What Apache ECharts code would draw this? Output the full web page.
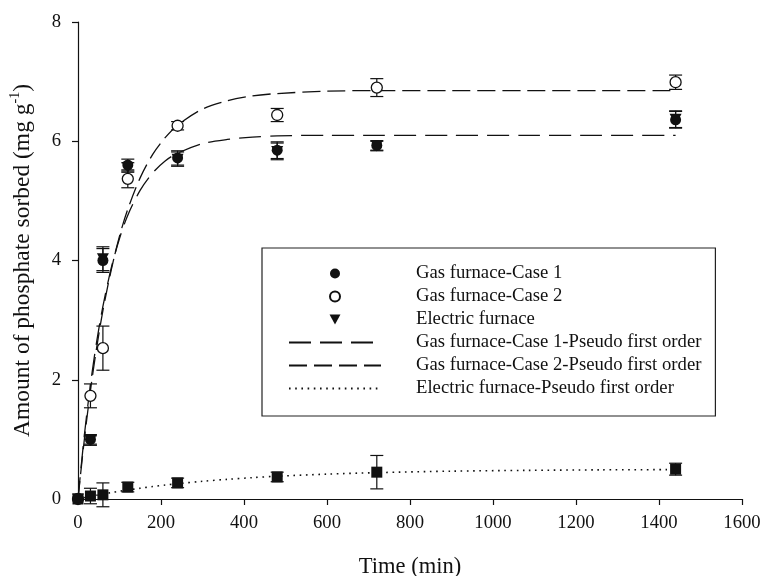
<!DOCTYPE html>
<html>
<head>
<meta charset="utf-8">
<script src="https://cdn.jsdelivr.net/npm/echarts@6/dist/echarts.min.js"></script>
<style>
  html, body { margin: 0; padding: 0; background: #fff; }
  #chart { width: 776px; height: 576px; }
</style>
</head>
<body>
<div id="chart"></div>
<script>
// sampling times (min)
var times = [0, 30, 60, 120, 240, 480, 720, 1440];

// measured sorption (mg/g) and error bar half-widths
var case1 = [0, 1.0, 4.0, 5.6, 5.72, 5.85, 5.93, 6.36];
var case1Err = [0, 0.08, 0.2, 0.1, 0.12, 0.14, 0.08, 0.14];
var case2 = [0, 1.73, 2.53, 5.37, 6.26, 6.44, 6.9, 6.99];
var case2Err = [0, 0.2, 0.37, 0.15, 0.07, 0.11, 0.15, 0.12];
var electric = [0, 0.98, 4.03, 5.56, 5.7, 5.83, 5.92, 6.37];
var electricErr = [0, 0.08, 0.2, 0.08, 0.12, 0.14, 0.08, 0.14];
var lowSeries = [0, 0.05, 0.07, 0.2, 0.27, 0.37, 0.45, 0.5];
var lowSeriesErr = [0, 0.13, 0.2, 0.08, 0.08, 0.08, 0.28, 0.1];

// fitted curves
var fitTimes = [0, 15, 30, 45, 60, 80, 100, 120, 150, 180, 210, 240, 300, 360, 420, 480, 600, 720, 900, 1080, 1260, 1440];
var fitCase1 = [0, 1.05, 1.92, 2.64, 3.23, 3.87, 4.37, 4.76, 5.18, 5.47, 5.67, 5.80, 5.96, 6.03, 6.07, 6.09, 6.10, 6.10, 6.10, 6.10, 6.10, 6.10];
var fitCase2 = [0, 0.98, 1.82, 2.54, 3.16, 3.84, 4.41, 4.86, 5.39, 5.78, 6.06, 6.27, 6.54, 6.68, 6.76, 6.80, 6.84, 6.85, 6.85, 6.85, 6.85, 6.85];
var fitElectric = [0, 0.022, 0.044, 0.063, 0.082, 0.107, 0.130, 0.151, 0.181, 0.209, 0.234, 0.257, 0.297, 0.330, 0.358, 0.382, 0.417, 0.442, 0.467, 0.480, 0.489, 0.493];

var xTicks = { min: 0, max: 1600, interval: 200 };
var yTicks = { min: 0, max: 8, interval: 2 };

var FONT = '"Liberation Serif", "DejaVu Serif", serif';
var INK = '#111';
var DOWN_TRI = 'path://M0,0L12,0L6,11Z';

function pairs(xs, ys) {
  return xs.map(function(x, i) { return [x, ys[i]]; });
}

function errData(vals, errs) {
  return times.map(function(t, i) { return [t, vals[i] - errs[i], vals[i] + errs[i]]; })
    .filter(function(d, i) { return errs[i] > 0; });
}

function errorBars(name, vals, errs) {
  return {
    name: name,
    type: 'custom',
    z: 2,
    silent: true,
    data: errData(vals, errs),
    renderItem: function(params, api) {
      var lo = api.coord([api.value(0), api.value(1)]);
      var hi = api.coord([api.value(0), api.value(2)]);
      var w = 6.5;
      var st = { stroke: INK, lineWidth: 1.2 };
      return {
        type: 'group',
        children: [
          { type: 'line', shape: { x1: lo[0], y1: lo[1], x2: hi[0], y2: hi[1] }, style: st },
          { type: 'line', shape: { x1: lo[0] - w, y1: lo[1], x2: lo[0] + w, y2: lo[1] }, style: st },
          { type: 'line', shape: { x1: hi[0] - w, y1: hi[1], x2: hi[0] + w, y2: hi[1] }, style: st }
        ]
      };
    }
  };
}

function fitLine(name, ys, width, dash) {
  return {
    name: name,
    type: 'line',
    data: pairs(fitTimes, ys),
    smooth: 0.3,
    showSymbol: false,
    symbol: 'none',
    z: 3,
    itemStyle: { color: INK },
    lineStyle: { color: INK, width: width, type: dash }
  };
}

var chart = echarts.init(document.getElementById('chart'));

chart.setOption({
  animation: false,
  backgroundColor: '#fff',
  textStyle: { fontFamily: FONT, color: INK },
  grid: { left: 78, top: 22, right: 34, bottom: 77, containLabel: false, outerBoundsMode: 'none' },
  legend: {
    orient: 'vertical',
    left: 262,
    top: 248,
    padding: [14, 14, 16, 26],
    borderColor: '#222',
    borderWidth: 1.2,
    itemWidth: 92,
    itemHeight: 10,
    itemGap: 0,
    textStyle: { fontFamily: FONT, fontSize: 18.7, color: INK, lineHeight: 23, padding: [0, 0, 0, 30] },
    data: [
      'Gas furnace-Case 1',
      'Gas furnace-Case 2',
      { name: 'Electric furnace', icon: DOWN_TRI },
      { name: 'Gas furnace-Case 1-Pseudo first order', itemStyle: { opacity: 0 } },
      { name: 'Gas furnace-Case 2-Pseudo first order', itemStyle: { opacity: 0 } },
      { name: 'Electric furnace-Pseudo first order', itemStyle: { opacity: 0 } }
    ]
  },
  xAxis: {
    type: 'value',
    min: xTicks.min,
    max: xTicks.max,
    interval: xTicks.interval,
    name: 'Time (min)',
    nameLocation: 'middle',
    nameGap: 57,
    nameTextStyle: { fontFamily: FONT, fontSize: 22.5, color: INK },
    axisLine: { onZero: false, lineStyle: { color: INK, width: 1.2 } },
    axisTick: { length: 6, lineStyle: { color: INK, width: 1.2 } },
    axisLabel: { fontFamily: FONT, fontSize: 18.7, color: INK, margin: 15, formatter: function(v) { return String(v); } },
    splitLine: { show: false }
  },
  yAxis: {
    type: 'value',
    min: yTicks.min,
    max: yTicks.max,
    interval: yTicks.interval,
    name: '{a|Amount of phosphate sorbed (mg g}{s|-1}{a|)}',
    nameLocation: 'middle',
    nameGap: 43,
    nameRotate: 90,
    nameTextStyle: {
      fontFamily: FONT,
      color: INK,
      rich: {
        a: { fontFamily: FONT, fontSize: 23.5, color: INK, lineHeight: 27, verticalAlign: 'bottom' },
        s: { fontFamily: FONT, fontSize: 14, color: INK, lineHeight: 27, verticalAlign: 'top' }
      }
    },
    axisLine: { show: true, onZero: false, lineStyle: { color: INK, width: 1.2 } },
    axisTick: { show: true, length: 6, lineStyle: { color: INK, width: 1.2 } },
    axisLabel: { fontFamily: FONT, fontSize: 18.7, color: INK, margin: 17 },
    splitLine: { show: false }
  },
  series: [
    errorBars('err-case1', case1, case1Err),
    errorBars('err-case2', case2, case2Err),
    errorBars('err-electric', electric, electricErr),
    errorBars('err-low', lowSeries, lowSeriesErr),
    fitLine('Gas furnace-Case 1-Pseudo first order', fitCase1, 1.3, [22, 9]),
    fitLine('Gas furnace-Case 2-Pseudo first order', fitCase2, 1.3, [18, 7]),
    fitLine('Electric furnace-Pseudo first order', fitElectric, 1.6, [1.6, 4.6]),
    {
      name: 'Gas furnace-Case 1',
      type: 'scatter',
      data: pairs(times, case1),
      symbol: 'circle',
      symbolSize: 11,
      clip: false,
      z: 5,
      itemStyle: { color: INK, opacity: 1 }
    },
    {
      name: 'Gas furnace-Case 2',
      type: 'scatter',
      data: pairs(times, case2),
      symbol: 'circle',
      symbolSize: 11,
      clip: false,
      z: 5,
      itemStyle: { color: '#fff', borderColor: INK, borderWidth: 1.3, opacity: 1 }
    },
    {
      name: 'Electric furnace',
      type: 'scatter',
      data: pairs(times, electric),
      symbol: DOWN_TRI,
      symbolSize: [12, 11],
      clip: false,
      z: 6,
      itemStyle: { color: INK, opacity: 1 }
    },
    {
      name: 'Electric furnace (data)',
      type: 'scatter',
      data: pairs(times, lowSeries),
      symbol: 'rect',
      symbolSize: 11,
      clip: false,
      z: 5,
      itemStyle: { color: INK, opacity: 1 }
    }
  ]
});
</script>
</body>
</html>
